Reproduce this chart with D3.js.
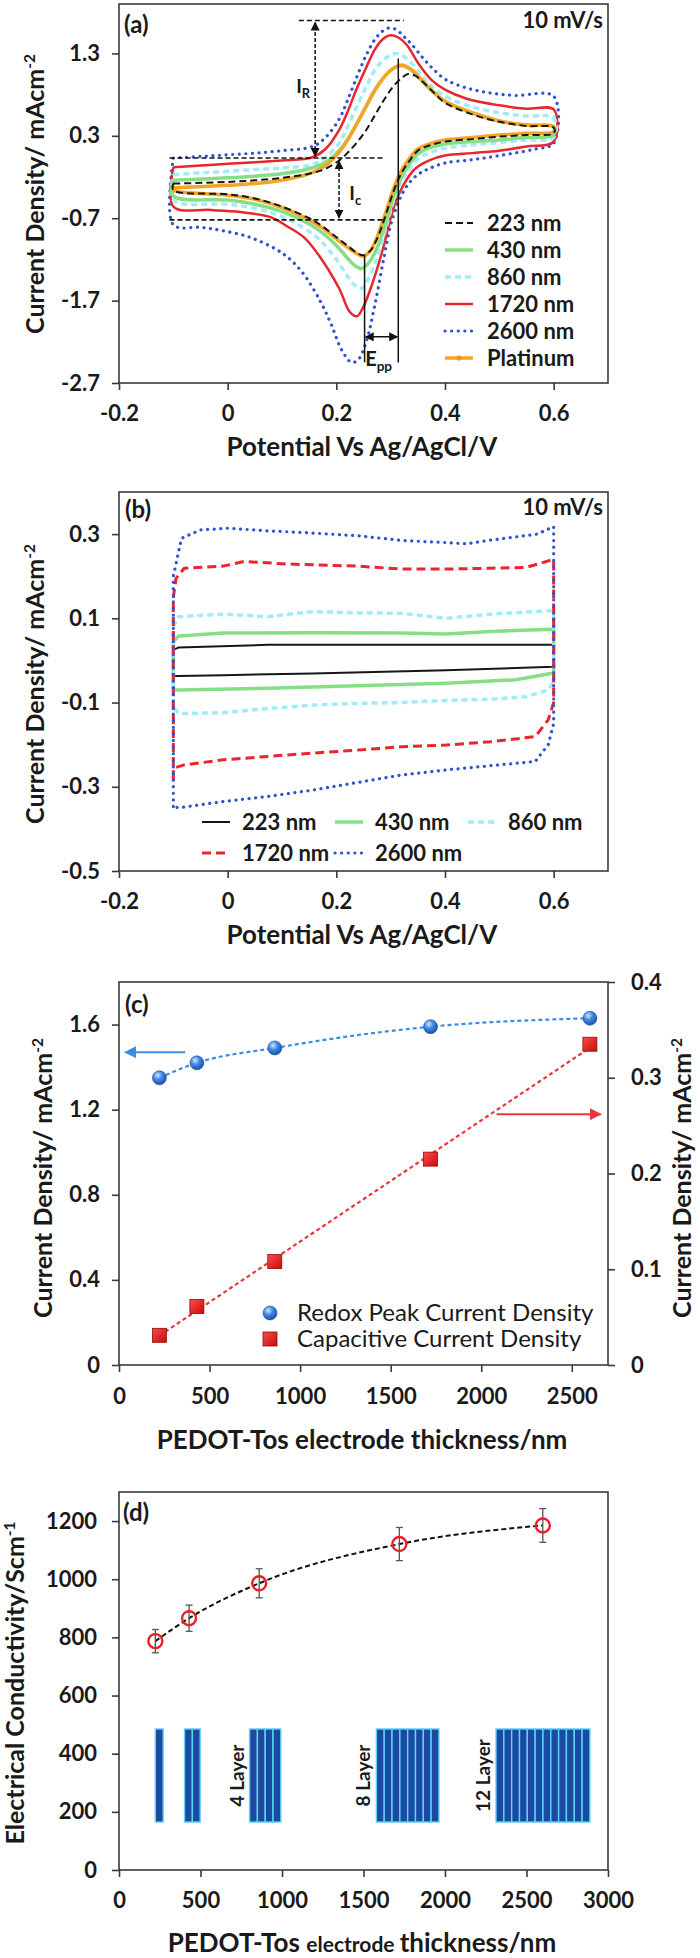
<!DOCTYPE html>
<html>
<head>
<meta charset="utf-8">
<script src="https://cdn.jsdelivr.net/npm/d3@7"></script>
<style>
  body { margin: 0; background: #fff; }
  svg text { font-family: Lato, "Open Sans", sans-serif; fill: #1a1a1a; }
</style>
</head>
<body>
<script>
'use strict';

// ---------- panel (a): CV at 10 mV/s, points are [potential V, current mA/cm2] ----------
const cvNames = ["223 nm", "430 nm", "860 nm", "1720 nm", "2600 nm", "Platinum"];

const cvA223Up = [[-0.1,-0.28],[0,-0.26],[0.05,-0.24],[0.1,-0.21],[0.15,-0.16],[0.18,-0.1],[0.205,0.0],[0.22,0.09],[0.238,0.22],[0.255,0.37],[0.271,0.55],[0.29,0.76],[0.305,0.9],[0.32,1.0],[0.332,1.05],[0.345,1.03],[0.36,0.95],[0.38,0.82],[0.4,0.7],[0.45,0.56],[0.5,0.47],[0.55,0.42],[0.6,0.4]];
const cvA223Low = [[0.6,0.33],[0.55,0.31],[0.5,0.29],[0.45,0.26],[0.4,0.23],[0.37,0.18],[0.35,0.12],[0.335,0.0],[0.32,-0.15],[0.305,-0.38],[0.29,-0.68],[0.275,-0.95],[0.262,-1.1],[0.25,-1.15],[0.238,-1.12],[0.22,-1.03],[0.2,-0.93],[0.175,-0.8],[0.15,-0.7],[0.1,-0.56],[0.05,-0.46],[0,-0.41],[-0.1,-0.36]];

const cvA430Up = [[-0.1,-0.24],[0,-0.21],[0.05,-0.19],[0.1,-0.16],[0.15,-0.1],[0.18,-0.02],[0.205,0.12],[0.22,0.25],[0.238,0.45],[0.255,0.66],[0.271,0.86],[0.29,1.03],[0.305,1.12],[0.32,1.15],[0.335,1.11],[0.35,1.02],[0.37,0.88],[0.4,0.72],[0.45,0.58],[0.5,0.48],[0.55,0.43],[0.6,0.41]];
const cvA430Low = [[0.6,0.31],[0.55,0.28],[0.5,0.25],[0.45,0.23],[0.4,0.2],[0.37,0.15],[0.35,0.08],[0.335,-0.04],[0.32,-0.2],[0.305,-0.45],[0.29,-0.78],[0.275,-1.06],[0.26,-1.24],[0.247,-1.31],[0.235,-1.28],[0.22,-1.18],[0.2,-1.03],[0.175,-0.88],[0.15,-0.77],[0.1,-0.62],[0.05,-0.53],[0,-0.48],[-0.1,-0.43]];

const cvA860Up = [[-0.1,-0.17],[-0.05,-0.15],[0,-0.13],[0.05,-0.11],[0.1,-0.09],[0.156,-0.05],[0.18,0.04],[0.205,0.21],[0.22,0.4],[0.238,0.66],[0.255,0.9],[0.271,1.1],[0.29,1.24],[0.308,1.3],[0.322,1.27],[0.336,1.2],[0.355,1.05],[0.37,0.94],[0.4,0.78],[0.45,0.65],[0.5,0.58],[0.55,0.54],[0.6,0.52]];
const cvA860Low = [[0.6,0.28],[0.55,0.25],[0.5,0.22],[0.45,0.19],[0.4,0.15],[0.37,0.09],[0.35,0.02],[0.335,-0.1],[0.32,-0.25],[0.305,-0.5],[0.29,-0.85],[0.275,-1.18],[0.26,-1.42],[0.247,-1.55],[0.235,-1.52],[0.22,-1.4],[0.2,-1.2],[0.175,-1.0],[0.15,-0.86],[0.1,-0.68],[0.05,-0.58],[0,-0.53],[-0.1,-0.48]];

const cvA1720Up = [[-0.1,-0.08],[-0.05,-0.06],[0,-0.04],[0.05,-0.02],[0.1,0.0],[0.156,0.04],[0.18,0.14],[0.205,0.37],[0.22,0.58],[0.238,0.88],[0.255,1.13],[0.271,1.35],[0.285,1.47],[0.3,1.52],[0.315,1.49],[0.33,1.4],[0.353,1.16],[0.375,0.98],[0.4,0.86],[0.44,0.75],[0.5,0.67],[0.55,0.63],[0.6,0.62]];
const cvA1720Low = [[0.6,0.23],[0.55,0.17],[0.5,0.12],[0.45,0.09],[0.4,0.06],[0.37,0.0],[0.345,-0.1],[0.325,-0.28],[0.31,-0.49],[0.3,-0.7],[0.287,-1.04],[0.272,-1.38],[0.26,-1.61],[0.248,-1.8],[0.238,-1.89],[0.225,-1.84],[0.205,-1.55],[0.17,-1.17],[0.14,-0.93],[0.11,-0.8],[0.08,-0.69],[0.03,-0.63],[-0.03,-0.6],[-0.1,-0.56]];

const cvA2600Up = [[-0.1,0.03],[-0.05,0.05],[0,0.07],[0.05,0.09],[0.1,0.12],[0.156,0.17],[0.18,0.28],[0.205,0.5],[0.22,0.72],[0.238,1.02],[0.255,1.28],[0.271,1.47],[0.285,1.57],[0.297,1.61],[0.31,1.59],[0.325,1.5],[0.34,1.4],[0.36,1.24],[0.38,1.1],[0.402,0.98],[0.44,0.88],[0.483,0.82],[0.53,0.79],[0.6,0.78]];
const cvA2600Low = [[0.6,0.21],[0.566,0.14],[0.5,0.06],[0.45,0.01],[0.4,-0.03],[0.37,-0.1],[0.35,-0.17],[0.333,-0.28],[0.32,-0.42],[0.31,-0.58],[0.3,-0.78],[0.287,-1.2],[0.271,-1.75],[0.255,-2.2],[0.24,-2.42],[0.228,-2.45],[0.21,-2.3],[0.19,-1.98],[0.17,-1.7],[0.14,-1.38],[0.115,-1.2],[0.09,-1.08],[0.04,-0.93],[-0.01,-0.85],[-0.05,-0.81],[-0.1,-0.78]];

const cvAPtUp = [[-0.1,-0.33],[0,-0.3],[0.05,-0.28],[0.1,-0.24],[0.15,-0.16],[0.18,-0.06],[0.205,0.1],[0.22,0.24],[0.238,0.45],[0.255,0.66],[0.271,0.85],[0.29,1.03],[0.305,1.12],[0.32,1.16],[0.335,1.12],[0.35,1.03],[0.37,0.89],[0.4,0.72],[0.45,0.58],[0.5,0.48],[0.55,0.43],[0.6,0.41]];
const cvAPtLow = [[0.6,0.35],[0.55,0.33],[0.5,0.31],[0.45,0.28],[0.4,0.25],[0.37,0.2],[0.35,0.14],[0.335,0.03],[0.32,-0.12],[0.305,-0.35],[0.29,-0.65],[0.275,-0.93],[0.262,-1.1],[0.25,-1.16],[0.238,-1.13],[0.22,-1.05],[0.2,-0.95],[0.175,-0.82],[0.15,-0.72],[0.1,-0.57],[0.05,-0.47],[0,-0.42],[-0.1,-0.36]];

// ---------- panel (b): blank electrolyte CV ----------
const cvB223Up = [[-0.1,-0.037],[-0.1,0.025],[-0.09,0.031],[0.074,0.037],[0.32,0.037],[0.6,0.037]];
const cvB223Low = [[0.6,-0.015],[0.402,-0.023],[0.156,-0.031],[-0.008,-0.035],[-0.09,-0.037],[-0.1,-0.037]];
const cvB430Up = [[-0.1,-0.07],[-0.1,0.045],[-0.09,0.058],[-0.008,0.065],[0.156,0.066],[0.32,0.065],[0.402,0.063],[0.484,0.069],[0.6,0.074]];
const cvB430Low = [[0.6,-0.03],[0.53,-0.046],[0.402,-0.054],[0.238,-0.06],[0.074,-0.066],[-0.09,-0.07],[-0.1,-0.07]];
const cvB860Up = [[-0.1,-0.11],[-0.1,0.08],[-0.09,0.104],[-0.008,0.11],[0.074,0.104],[0.156,0.116],[0.238,0.113],[0.32,0.112],[0.402,0.1],[0.484,0.11],[0.566,0.116],[0.6,0.118]];
const cvB860Low = [[0.6,-0.05],[0.59,-0.07],[0.55,-0.086],[0.484,-0.092],[0.402,-0.095],[0.32,-0.1],[0.238,-0.102],[0.156,-0.106],[0.074,-0.114],[-0.008,-0.124],[-0.09,-0.126],[-0.1,-0.11]];
const cvB1720Up = [[-0.1,-0.284],[-0.1,0.15],[-0.095,0.195],[-0.08,0.219],[-0.008,0.224],[0.03,0.235],[0.11,0.229],[0.238,0.224],[0.32,0.217],[0.402,0.217],[0.484,0.219],[0.55,0.221],[0.597,0.239]];
const cvB1720Low = [[0.6,0.239],[0.6,-0.1],[0.59,-0.141],[0.566,-0.181],[0.484,-0.193],[0.402,-0.201],[0.32,-0.205],[0.238,-0.213],[0.156,-0.22],[0.074,-0.228],[-0.008,-0.236],[-0.08,-0.248],[-0.1,-0.256]];
const cvB2600Up = [[-0.1,-0.347],[-0.1,0.2],[-0.085,0.29],[-0.05,0.31],[0,0.314],[0.07,0.308],[0.15,0.303],[0.24,0.296],[0.32,0.285],[0.4,0.28],[0.44,0.277],[0.48,0.285],[0.57,0.3],[0.6,0.318]];
const cvB2600Low = [[0.6,0.318],[0.6,-0.15],[0.59,-0.2],[0.566,-0.24],[0.484,-0.25],[0.402,-0.26],[0.32,-0.272],[0.238,-0.29],[0.156,-0.308],[0.074,-0.323],[-0.008,-0.335],[-0.09,-0.35],[-0.1,-0.347]];

// ---------- panels (c) and (d) ----------
const thickness = [223, 430, 860, 1720, 2600];
const redoxPeak = [1.35, 1.42, 1.49, 1.59, 1.63];          // left axis
const capCurrent = [0.031, 0.061, 0.108, 0.215, 0.335];    // right axis
const conductivity = [787, 866, 986, 1121, 1185];
const conductivityErr = [40, 45, 50, 57, 58];

// layer sketch in (d)
const layerStart = [223, 402, 801, 1579, 2313];
const layerCount = [1, 2, 4, 8, 12];
const layerLabels = ["", "", "4 Layer", "8 Layer", "12 Layer"];
const layerWidth = 48;
const layerRange = [165, 485];

// tick values
const ticksCVx = [-0.2, 0, 0.2, 0.4, 0.6];
const ticksAy = [-2.7, -1.7, -0.7, 0.3, 1.3];
const ticksBy = [-0.5, -0.3, -0.1, 0.1, 0.3];
const ticksCx = [0, 500, 1000, 1500, 2000, 2500];
const ticksCy = [0, 0.4, 0.8, 1.2, 1.6];
const ticksCy2 = [0, 0.1, 0.2, 0.3, 0.4];
const ticksDx = [0, 500, 1000, 1500, 2000, 2500, 3000];
const ticksDy = [0, 200, 400, 600, 800, 1000, 1200];

// ---------------------------------------------------------------
const LEFT = 119, RIGHT = 608;
const svg = d3.select('body').append('svg').attr('width', 700).attr('height', 1958);

const defs = svg.append('defs');
function arrowMarker(id, color) {
  defs.append('marker')
    .attr('id', id).attr('viewBox', '0 0 10 10')
    .attr('refX', 9).attr('refY', 5)
    .attr('markerWidth', 6).attr('markerHeight', 6)
    .attr('orient', 'auto-start-reverse')
    .append('path').attr('d', 'M0,0 L10,5 L0,10 z').attr('fill', color);
}
arrowMarker('arrK', '#111');
arrowMarker('arrB', '#3b8de0');
arrowMarker('arrR', '#e8383d');

const ball = defs.append('radialGradient').attr('id', 'ball').attr('cx', '38%').attr('cy', '32%').attr('r', '70%');
ball.append('stop').attr('offset', '0%').attr('stop-color', '#cfe6ff');
ball.append('stop').attr('offset', '45%').attr('stop-color', '#3f8ae6');
ball.append('stop').attr('offset', '100%').attr('stop-color', '#1a4da6');
const cube = defs.append('linearGradient').attr('id', 'cube').attr('x1', 0).attr('y1', 0).attr('x2', 1).attr('y2', 1);
cube.append('stop').attr('offset', '0%').attr('stop-color', '#ff4a4a');
cube.append('stop').attr('offset', '100%').attr('stop-color', '#c40e0e');

const fmt = (d) => String(d);

function frame(top, bottom) {
  svg.append('rect')
    .attr('x', LEFT).attr('y', top)
    .attr('width', RIGHT - LEFT).attr('height', bottom - top)
    .attr('fill', 'none').attr('stroke', '#3a3a3a').attr('stroke-width', 1.6);
}

function styleAxis(g) {
  g.select('.domain').remove();
  g.attr('font-family', 'Lato, sans-serif').attr('font-size', 22).attr('font-weight', 'bold');
  g.selectAll('line').attr('stroke', '#3a3a3a').attr('stroke-width', 1.6);
  g.selectAll('text').attr('fill', '#1a1a1a');
}

function drawAxes(x, y, xTicks, yTicks, bottom, yPad) {
  svg.append('g')
    .attr('transform', 'translate(0,' + bottom + ')')
    .call(d3.axisBottom(x).tickValues(xTicks).tickFormat(fmt).tickSize(7).tickPadding(15))
    .call(styleAxis);
  svg.append('g')
    .attr('transform', 'translate(' + LEFT + ',0)')
    .call(d3.axisLeft(y).tickValues(yTicks).tickFormat(fmt).tickSize(7).tickPadding(yPad))
    .call(styleAxis);
}

function yTitle(x, cy, main, sup, size) {
  const t = svg.append('text')
    .attr('transform', 'translate(' + x + ',' + cy + ')rotate(-90)')
    .attr('text-anchor', 'middle')
    .attr('font-size', size).attr('font-weight', 'bold');
  t.append('tspan').text(main);
  t.append('tspan').attr('dy', -9).attr('font-size', size * 0.62).text(sup);
}

function xTitle(y, text) {
  svg.append('text')
    .attr('x', 362).attr('y', y)
    .attr('text-anchor', 'middle')
    .attr('font-size', 26).attr('font-weight', 'bold')
    .text(text);
}

function cornerText(x, y, text, anchor) {
  svg.append('text')
    .attr('x', x).attr('y', y)
    .attr('text-anchor', anchor)
    .attr('font-size', anchor === 'end' ? 22 : 24).attr('font-weight', 'bold')
    .text(text);
}

// ================= panel (a) =================
const xA = d3.scaleLinear().domain([-0.2, 0.7]).range([LEFT, RIGHT]);
const yA = d3.scaleLinear().domain([-2.7, 1.9]).range([383, 4]);

const styleA = {
  "223 nm":   {color: '#161616', width: 2,   dash: '7,4'},
  "430 nm":   {color: '#86df86', width: 3.5, dash: null},
  "860 nm":   {color: '#a3ecf5', width: 3.5, dash: '6,4'},
  "1720 nm":  {color: '#e8262e', width: 2.5, dash: null},
  "2600 nm":  {color: '#2f52d0', width: 3.2, dash: '0.1,6.5'},
  "Platinum": {color: '#f5a524', width: 3.5, dash: null}
};
const loopsA = {
  "223 nm": [cvA223Up, cvA223Low],
  "430 nm": [cvA430Up, cvA430Low],
  "860 nm": [cvA860Up, cvA860Low],
  "1720 nm": [cvA1720Up, cvA1720Low],
  "2600 nm": [cvA2600Up, cvA2600Low],
  "Platinum": [cvAPtUp, cvAPtLow]
};

function drawLoops(x, y, loops, styles, order, curve) {
  const line = d3.line().x((d) => x(d[0])).y((d) => y(d[1])).curve(curve);
  order.forEach((name) => {
    const up = loops[name][0], low = loops[name][1];
    const pts = up.concat(low).concat([up[0]]);
    const s = styles[name];
    svg.append('path')
      .datum(pts)
      .attr('d', line)
      .attr('fill', 'none')
      .attr('stroke', s.color)
      .attr('stroke-width', s.width)
      .attr('stroke-dasharray', s.dash)
      .attr('stroke-linecap', s.dash && s.dash.startsWith('0.1') ? 'round' : 'butt')
      .attr('stroke-linejoin', 'round');
  });
}

// annotation lines (data units)
const annA = {
  top: {j: 1.70, e0: 0.131, e1: 0.324},
  base: {j: 0.03, e0: -0.107, e1: 0.287},
  low: {j: -0.72, e0: -0.107, e1: 0.287},
  iR: {e: 0.161},
  iC: {e: 0.205},
  eOx: {e: 0.314, j0: 1.24, j1: -2.45},
  eRed: {e: 0.252, j0: -1.16, j1: -2.45},
  epp: {j: -2.14}
};

drawLoops(xA, yA, loopsA, styleA, ["2600 nm", "1720 nm", "860 nm", "430 nm", "Platinum", "223 nm"], d3.curveCatmullRom.alpha(0.5));

function hDash(x, y, a) {
  svg.append('line')
    .attr('x1', x(a.e0)).attr('x2', x(a.e1)).attr('y1', y(a.j)).attr('y2', y(a.j))
    .attr('stroke', '#111').attr('stroke-width', 1.6).attr('stroke-dasharray', '5,3');
}
hDash(xA, yA, annA.top);
hDash(xA, yA, annA.base);
hDash(xA, yA, annA.low);

svg.append('line')
  .attr('x1', xA(annA.iR.e)).attr('x2', xA(annA.iR.e))
  .attr('y1', yA(annA.base.j) - 2).attr('y2', yA(annA.top.j) + 2)
  .attr('stroke', '#111').attr('stroke-width', 1.5).attr('stroke-dasharray', '4,2')
  .attr('marker-start', 'url(#arrK)').attr('marker-end', 'url(#arrK)');
svg.append('line')
  .attr('x1', xA(annA.iC.e)).attr('x2', xA(annA.iC.e))
  .attr('y1', yA(annA.base.j) + 3).attr('y2', yA(annA.low.j) - 2)
  .attr('stroke', '#111').attr('stroke-width', 1.5).attr('stroke-dasharray', '4,2')
  .attr('marker-start', 'url(#arrK)').attr('marker-end', 'url(#arrK)');

[annA.eOx, annA.eRed].forEach((v) => {
  svg.append('line')
    .attr('x1', xA(v.e)).attr('x2', xA(v.e))
    .attr('y1', yA(v.j0)).attr('y2', yA(v.j1))
    .attr('stroke', '#111').attr('stroke-width', 1.5);
});
svg.append('line')
  .attr('x1', xA(annA.eRed.e) + 1).attr('x2', xA(annA.eOx.e) - 1)
  .attr('y1', yA(annA.epp.j)).attr('y2', yA(annA.epp.j))
  .attr('stroke', '#111').attr('stroke-width', 1.5)
  .attr('marker-start', 'url(#arrK)').attr('marker-end', 'url(#arrK)');

function subLabel(x, y, main, sub, size) {
  const t = svg.append('text').attr('x', x).attr('y', y).attr('font-size', size).attr('font-weight', 'bold');
  t.append('tspan').text(main);
  t.append('tspan').attr('dy', 5).attr('font-size', size * 0.68).text(sub);
}
subLabel(xA(0.126), yA(0.9) + 7, 'I', 'R', 19);
subLabel(xA(0.224), yA(-0.39) + 7, 'I', 'c', 19);
subLabel(xA(0.253), yA(-2.42) + 6, 'E', 'pp', 20);

drawAxes(xA, yA, ticksCVx, ticksAy, 383, 12);
frame(4, 383);

// legend (a)
cvNames.forEach((name, i) => {
  const s = styleA[name];
  const ly = 223 + i * 27;
  svg.append('line')
    .attr('x1', 445).attr('x2', 473).attr('y1', ly).attr('y2', ly)
    .attr('stroke', s.color).attr('stroke-width', s.width)
    .attr('stroke-dasharray', s.dash)
    .attr('stroke-linecap', s.dash && s.dash.startsWith('0.1') ? 'round' : 'butt');
  if (name === 'Platinum') {
    svg.append('circle').attr('cx', 459).attr('cy', ly).attr('r', 2.6).attr('fill', '#e8951a');
  }
  svg.append('text')
    .attr('x', 487).attr('y', ly + 8)
    .attr('font-size', 22).attr('font-weight', 'bold')
    .text(name);
});

cornerText(124, 33, '(a)', 'start');
cornerText(603, 28, '10 mV/s', 'end');
yTitle(44, 194, 'Current Density/ mAcm', '-2', 25);
xTitle(456, 'Potential Vs Ag/AgCl/V');

// ================= panel (b) =================
const xB = d3.scaleLinear().domain([-0.2, 0.7]).range([LEFT, RIGHT]);
const yB = d3.scaleLinear().domain([-0.5, 0.4]).range([871, 492]);

const styleB = {
  "223 nm":  {color: '#161616', width: 2,   dash: null},
  "430 nm":  {color: '#86df86', width: 3.5, dash: null},
  "860 nm":  {color: '#a3ecf5', width: 3.5, dash: '6,4'},
  "1720 nm": {color: '#e8262e', width: 3,   dash: '9,5'},
  "2600 nm": {color: '#2f52d0', width: 3.2, dash: '0.1,6.5'}
};
const loopsB = {
  "223 nm": [cvB223Up, cvB223Low],
  "430 nm": [cvB430Up, cvB430Low],
  "860 nm": [cvB860Up, cvB860Low],
  "1720 nm": [cvB1720Up, cvB1720Low],
  "2600 nm": [cvB2600Up, cvB2600Low]
};
drawLoops(xB, yB, loopsB, styleB, ["223 nm", "430 nm", "860 nm", "1720 nm", "2600 nm"], d3.curveLinear);

drawAxes(xB, yB, ticksCVx, ticksBy, 871, 12);
frame(492, 871);

// legend (b): 3 + 2 layout
cvNames.slice(0, 5).forEach((name, i) => {
  const s = styleB[name];
  const col = i % 3, row = Math.floor(i / 3);
  const lx = 202 + col * 133, ly = 822 + row * 31;
  svg.append('line')
    .attr('x1', lx).attr('x2', lx + 28).attr('y1', ly).attr('y2', ly)
    .attr('stroke', s.color).attr('stroke-width', s.width)
    .attr('stroke-dasharray', s.dash)
    .attr('stroke-linecap', s.dash && s.dash.startsWith('0.1') ? 'round' : 'butt');
  svg.append('text')
    .attr('x', lx + 40).attr('y', ly + 8)
    .attr('font-size', 22).attr('font-weight', 'bold')
    .text(name);
});

cornerText(125, 518, '(b)', 'start');
cornerText(603, 515, '10 mV/s', 'end');
yTitle(44, 684, 'Current Density/ mAcm', '-2', 25);
xTitle(944, 'Potential Vs Ag/AgCl/V');

// ================= panel (c) =================
const xC = d3.scaleLinear().domain([0, 2700]).range([LEFT, RIGHT]);
const yC = d3.scaleLinear().domain([0, 1.8]).range([1365, 982]);
const yC2 = d3.scaleLinear().domain([0, 0.4]).range([1365, 982]);

const peakPts = thickness.map((t, i) => [t, redoxPeak[i]]);
const capPts = thickness.map((t, i) => [t, capCurrent[i]]);

// smooth guide through redox peak points
svg.append('path')
  .datum(peakPts)
  .attr('d', d3.line().x((d) => xC(d[0])).y((d) => yC(d[1])).curve(d3.curveMonotoneX))
  .attr('fill', 'none').attr('stroke', '#3b8de0').attr('stroke-width', 2.2).attr('stroke-dasharray', '4,3');

// least squares trend line for capacitive current
const mx = d3.mean(thickness), my = d3.mean(capCurrent);
const slope = d3.sum(thickness, (t, i) => (t - mx) * (capCurrent[i] - my)) / d3.sum(thickness, (t) => (t - mx) * (t - mx));
const icpt = my - slope * mx;
const tEnds = d3.extent(thickness);
svg.append('line')
  .attr('x1', xC(tEnds[0])).attr('y1', yC2(icpt + slope * tEnds[0]))
  .attr('x2', xC(tEnds[1])).attr('y2', yC2(icpt + slope * tEnds[1]))
  .attr('stroke', '#e8383d').attr('stroke-width', 2.2).attr('stroke-dasharray', '4,3');

svg.selectAll('.ball')
  .data(peakPts).enter().append('circle')
  .attr('class', 'ball')
  .attr('cx', (d) => xC(d[0])).attr('cy', (d) => yC(d[1])).attr('r', 7)
  .attr('fill', 'url(#ball)').attr('stroke', '#1d4c9a').attr('stroke-width', 0.6);

svg.selectAll('.cube')
  .data(capPts).enter().append('rect')
  .attr('class', 'cube')
  .attr('x', (d) => xC(d[0]) - 7).attr('y', (d) => yC2(d[1]) - 7)
  .attr('width', 14).attr('height', 14)
  .attr('fill', 'url(#cube)').attr('stroke', '#8c0a0a').attr('stroke-width', 0.8);

// axis arrows (data units)
const arrowBlue = {from: 365, to: 35, value: 1.47};
const arrowRed = {from: 2085, to: 2660, value: 0.262};
svg.append('line')
  .attr('x1', xC(arrowBlue.from)).attr('x2', xC(arrowBlue.to))
  .attr('y1', yC(arrowBlue.value)).attr('y2', yC(arrowBlue.value))
  .attr('stroke', '#3b8de0').attr('stroke-width', 2).attr('marker-end', 'url(#arrB)');
svg.append('line')
  .attr('x1', xC(arrowRed.from)).attr('x2', xC(arrowRed.to))
  .attr('y1', yC2(arrowRed.value)).attr('y2', yC2(arrowRed.value))
  .attr('stroke', '#e8383d').attr('stroke-width', 2).attr('marker-end', 'url(#arrR)');

svg.append('g')
  .attr('transform', 'translate(0,1365)')
  .call(d3.axisBottom(xC).tickValues(ticksCx).tickFormat(fmt).tickSize(7).tickPadding(16))
  .call(styleAxis);
svg.append('g')
  .attr('transform', 'translate(' + LEFT + ',0)')
  .call(d3.axisLeft(yC).tickValues(ticksCy).tickFormat(fmt).tickSize(7).tickPadding(12))
  .call(styleAxis);
svg.append('g')
  .attr('transform', 'translate(' + RIGHT + ',0)')
  .call(d3.axisRight(yC2).tickValues(ticksCy2).tickFormat(fmt).tickSize(7).tickPadding(16))
  .call(styleAxis);
frame(982, 1365);

// legend (c)
svg.append('circle').attr('cx', 270).attr('cy', 1313).attr('r', 7)
  .attr('fill', 'url(#ball)').attr('stroke', '#1d4c9a').attr('stroke-width', 0.6);
svg.append('rect').attr('x', 263).attr('y', 1332).attr('width', 14).attr('height', 14)
  .attr('fill', 'url(#cube)').attr('stroke', '#8c0a0a').attr('stroke-width', 0.8);
svg.append('text').attr('x', 297).attr('y', 1321).attr('font-size', 24).text('Redox Peak Current Density');
svg.append('text').attr('x', 297).attr('y', 1347).attr('font-size', 24).text('Capacitive Current Density');

cornerText(125, 1013, '(c)', 'start');
yTitle(52, 1178, 'Current Density/ mAcm', '-2', 25);
yTitle(691, 1178, 'Current Density/ mAcm', '-2', 25);
xTitle(1449, 'PEDOT-Tos electrode thickness/nm');

// ================= panel (d) =================
const xD = d3.scaleLinear().domain([0, 3000]).range([LEFT, RIGHT]);
const yD = d3.scaleLinear().domain([0, 1300]).range([1870, 1492]);

// layer sketch
layerStart.forEach((s0, gi) => {
  d3.range(layerCount[gi]).forEach((k) => {
    svg.append('rect')
      .attr('x', xD(s0 + k * layerWidth))
      .attr('y', yD(layerRange[1]))
      .attr('width', xD(layerWidth) - xD(0))
      .attr('height', yD(layerRange[0]) - yD(layerRange[1]))
      .attr('fill', '#1b4aa2').attr('stroke', '#5fd2f6').attr('stroke-width', 1.4);
  });
  if (layerLabels[gi]) {
    const cx = xD(s0) - 13, cy = yD((layerRange[0] + layerRange[1]) / 2);
    svg.append('text')
      .attr('transform', 'translate(' + (cx + 7) + ',' + cy + ')rotate(-90)')
      .attr('text-anchor', 'middle')
      .attr('font-size', 19).attr('font-weight', 'bold')
      .text(layerLabels[gi]);
  }
});

const condPts = thickness.map((t, i) => [t, conductivity[i], conductivityErr[i]]);
svg.append('path')
  .datum(condPts)
  .attr('d', d3.line().x((d) => xD(d[0])).y((d) => yD(d[1])).curve(d3.curveMonotoneX))
  .attr('fill', 'none').attr('stroke', '#111').attr('stroke-width', 2).attr('stroke-dasharray', '5,3');

const eb = svg.selectAll('.eb').data(condPts).enter().append('g').attr('class', 'eb');
eb.append('line')
  .attr('x1', (d) => xD(d[0])).attr('x2', (d) => xD(d[0]))
  .attr('y1', (d) => yD(d[1] - d[2])).attr('y2', (d) => yD(d[1] + d[2]))
  .attr('stroke', '#555').attr('stroke-width', 1.3);
[-1, 1].forEach((sgn) => {
  eb.append('line')
    .attr('x1', (d) => xD(d[0]) - 3.5).attr('x2', (d) => xD(d[0]) + 3.5)
    .attr('y1', (d) => yD(d[1] + sgn * d[2])).attr('y2', (d) => yD(d[1] + sgn * d[2]))
    .attr('stroke', '#555').attr('stroke-width', 1.3);
});
eb.append('circle')
  .attr('cx', (d) => xD(d[0])).attr('cy', (d) => yD(d[1])).attr('r', 7)
  .attr('fill', 'none').attr('stroke', '#e8202a').attr('stroke-width', 2.4);

drawAxes(xD, yD, ticksDx, ticksDy, 1870, 15);
frame(1492, 1870);

cornerText(123, 1521, '(d)', 'start');
yTitle(24, 1683, 'Electrical Conductivity/Scm', '-1', 25);
const dt = svg.append('text').attr('x', 362).attr('y', 1952).attr('text-anchor', 'middle').attr('font-weight', 'bold');
dt.append('tspan').attr('font-size', 26).text('PEDOT-Tos ');
dt.append('tspan').attr('font-size', 21).text('electrode ');
dt.append('tspan').attr('font-size', 26).text('thickness/nm');
</script>
</body>
</html>
